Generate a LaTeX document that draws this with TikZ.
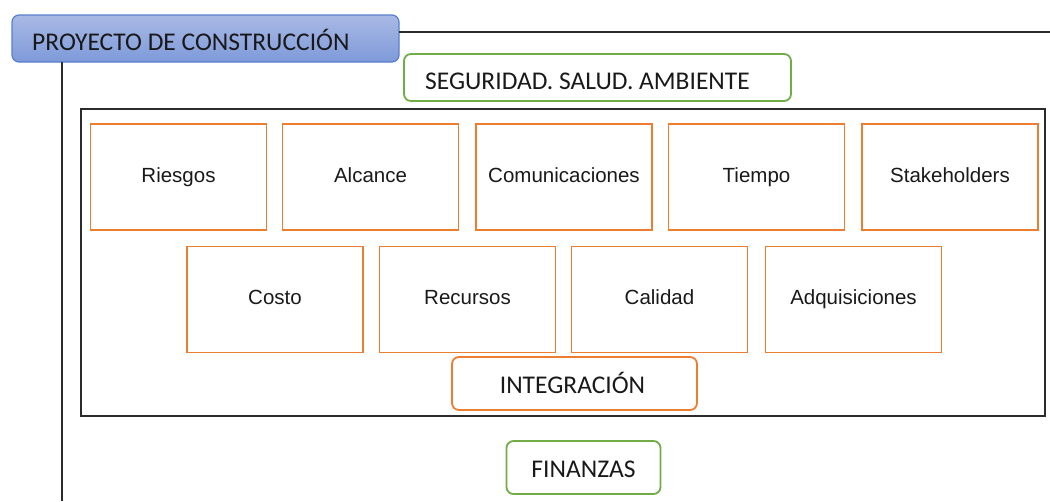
\documentclass[tikz,border=0pt]{standalone}
\usepackage{fontspec}
\setmainfont{Liberation Sans}
\newfontfamily\calibri{Carlito}
\definecolor{orng}{HTML}{ED7D31}
\definecolor{grn}{HTML}{70AD47}
\definecolor{hdtop}{HTML}{A9B9E5}
\definecolor{hdbot}{HTML}{7E9AD9}
\definecolor{hdborder}{HTML}{5A7ECF}
\definecolor{linegray}{HTML}{2B2B2B}
\begin{document}
\begin{tikzpicture}[x=1pt,y=-1pt,
  kabox/.style={draw=orng,line width=1.8pt,inner sep=0pt,minimum width=176pt,minimum height=106pt,
    font=\fontsize{20.5}{24}\selectfont,text=black!90,text height=15pt,text depth=5pt},
  greenbox/.style={draw=grn,line width=1.8pt,rounded corners=7pt,inner sep=0pt,
    font=\calibri\fontsize{25.5}{28}\selectfont,text=black!90,text height=19pt,text depth=0pt},
  intbox/.style={draw=orng,line width=1.8pt,rounded corners=7pt,inner sep=0pt,
    font=\calibri\fontsize{25.5}{28}\selectfont,text=black!90,text height=19pt,text depth=0pt},
  header/.style={draw=hdborder,line width=1.2pt,rounded corners=7pt,top color=hdtop,bottom color=hdbot,
    inner sep=0pt,minimum width=387pt,minimum height=47pt},
  conn/.style={draw=linegray,line width=2pt}]
\useasboundingbox (0,0) rectangle (1050,501);
% header
\node[header] (hdr) at (205.5,38.5) {};
\node[anchor=base west,font=\calibri\fontsize{25.5}{28}\selectfont,text=black!90,inner sep=0pt] (hdrtext) at (32,50) {PROYECTO DE CONSTRUCCIÓN};
\coordinate (topend) at (1050,32);
\coordinate (hdrR) at (399,32);
\coordinate (hdrB) at (62,62);
\coordinate (botend) at (62,501);
\draw[conn] (hdrR) -- (topend);
\draw[conn] (hdrB) -- (botend);
% outer frame
\node[draw=linegray,line width=2pt,inner sep=0pt,minimum width=964pt,minimum height=307pt] (frame) at (562.5,262) {};
% green boxes
\node[greenbox,text height=24pt,minimum width=387pt,minimum height=47pt] (ssa) at (597.5,77.5) {\hspace*{-20pt}SEGURIDAD. SALUD. AMBIENTE};
\node[greenbox,minimum width=154pt,minimum height=53pt] (fin) at (583.5,467.5) {FINANZAS};
% row 1
\node[kabox] (riesgos) at (178.5,177) {Riesgos};
\node[kabox] (alcance) at (370.5,177) {Alcance};
\node[kabox] (comun) at (564,177) {Comunicaciones};
\node[kabox] (tiempo) at (756.5,177) {Tiempo};
\node[kabox] (stake) at (950,177) {Stakeholders};
% row 2
\node[kabox] (costo) at (275,299.5) {Costo};
\node[kabox] (recursos) at (467.5,299.5) {Recursos};
\node[kabox] (calidad) at (659.5,299.5) {Calidad};
\node[kabox] (adq) at (853.5,299.5) {Adquisiciones};
% integration
\node[intbox,minimum width=245pt,minimum height=53pt] (integ) at (574.5,383.5) {\hspace*{-4pt}INTEGRACIÓN};
\end{tikzpicture}
\end{document}
